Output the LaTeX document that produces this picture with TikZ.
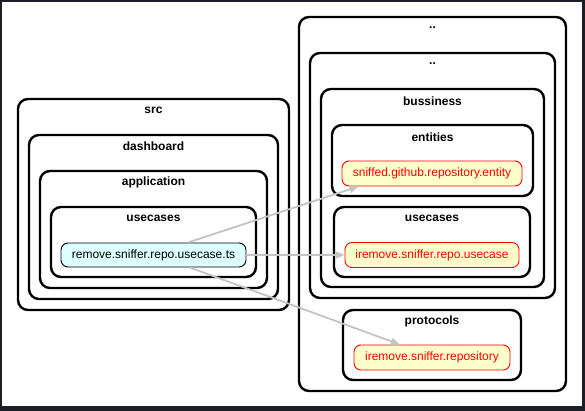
\documentclass[tikz,border=0pt]{standalone}
\usepackage{fontspec}
\setmainfont{Liberation Sans}
\usetikzlibrary{positioning}
\usetikzlibrary {arrows.meta}

\definecolor{framebg}{HTML}{1E1E28}
\definecolor{srcfill}{HTML}{DDFFFF}
\definecolor{depfill}{HTML}{FFFFCC}
\definecolor{linkgray}{HTML}{C4C4C4}

\begin{document}
\begin{tikzpicture}[x=1pt,y=-1pt,
 cluster/.style={draw,line width=2.4pt,rounded corners=10pt},
 title/.style={font=\bfseries\fontsize{12}{14}\selectfont},
 srcfile/.style={draw,fill=srcfill,rounded corners=7pt,line width=0.9pt,
   minimum width=185pt,minimum height=24pt,inner sep=0pt,
   font=\fontsize{12}{14}\selectfont},
 depfile/.style={draw=red,fill=depfill,text=red,rounded corners=7pt,line width=0.9pt,
   minimum height=25pt,inner sep=0pt,font=\fontsize{12}{14}\selectfont},
 link/.style={draw=linkgray,line width=1.8pt,-{Triangle[length=9pt,width=7pt]}}]
 \useasboundingbox (0,0) rectangle (585,411);
 \fill[framebg] (0,0) rectangle (585,411);
 \fill[white] (2,2) rectangle (582,406);
 % left side
 \draw[cluster] (18,99) rectangle (289,310);
 \node[title] (tsrc) at (153.5,110) {src};
 \draw[cluster] (29,135) rectangle (278,299);
 \node[title] (tdash) at (153.5,146) {dashboard};
 \draw[cluster] (40,171) rectangle (267,288);
 \node[title] (tapp) at (153.5,182) {application};
 \draw[cluster] (51,207) rectangle (256,277);
 \node[title] (tuse) at (153.5,218) {usecases};
 \node[srcfile] (rm) at (153.5,255) {remove.sniffer.repo.usecase.ts};
 % right side
 \draw[cluster] (299,17) rectangle (566,391);
 \node[title] (tup) at (432.5,28) {..};
 \draw[cluster] (310,53) rectangle (555,298);
 \node[title] (tupup) at (432.5,64) {..};
 \draw[cluster] (321,89) rectangle (544,287);
 \node[title] (tbus) at (432.5,101) {bussiness};
 \draw[cluster] (332,125) rectangle (533,196);
 \node[title] (tent) at (432.5,137) {entities};
 \node[depfile,minimum width=180pt] (ent) at (432,173.5) {sniffed.github.repository.entity};
 \draw[cluster] (334,207) rectangle (530,277);
 \node[title] (tuc) at (432,218) {usecases};
 \node[depfile,minimum width=174pt] (iuc) at (432,255) {iremove.sniffer.repo.usecase};
 \draw[cluster] (343,310) rectangle (521,380);
 \node[title] (tproto) at (432,321) {protocols};
 \node[depfile,minimum width=156pt] (repo) at (432,357.5) {iremove.sniffer.repository};
 % links
 \draw[link] (rm.20.9) -- (ent.190.6);
 \draw[link] (rm.east) -- (iuc.west);
 \draw[link] (rm.-19.2) -- (repo.158.7);
\end{tikzpicture}
\end{document}
